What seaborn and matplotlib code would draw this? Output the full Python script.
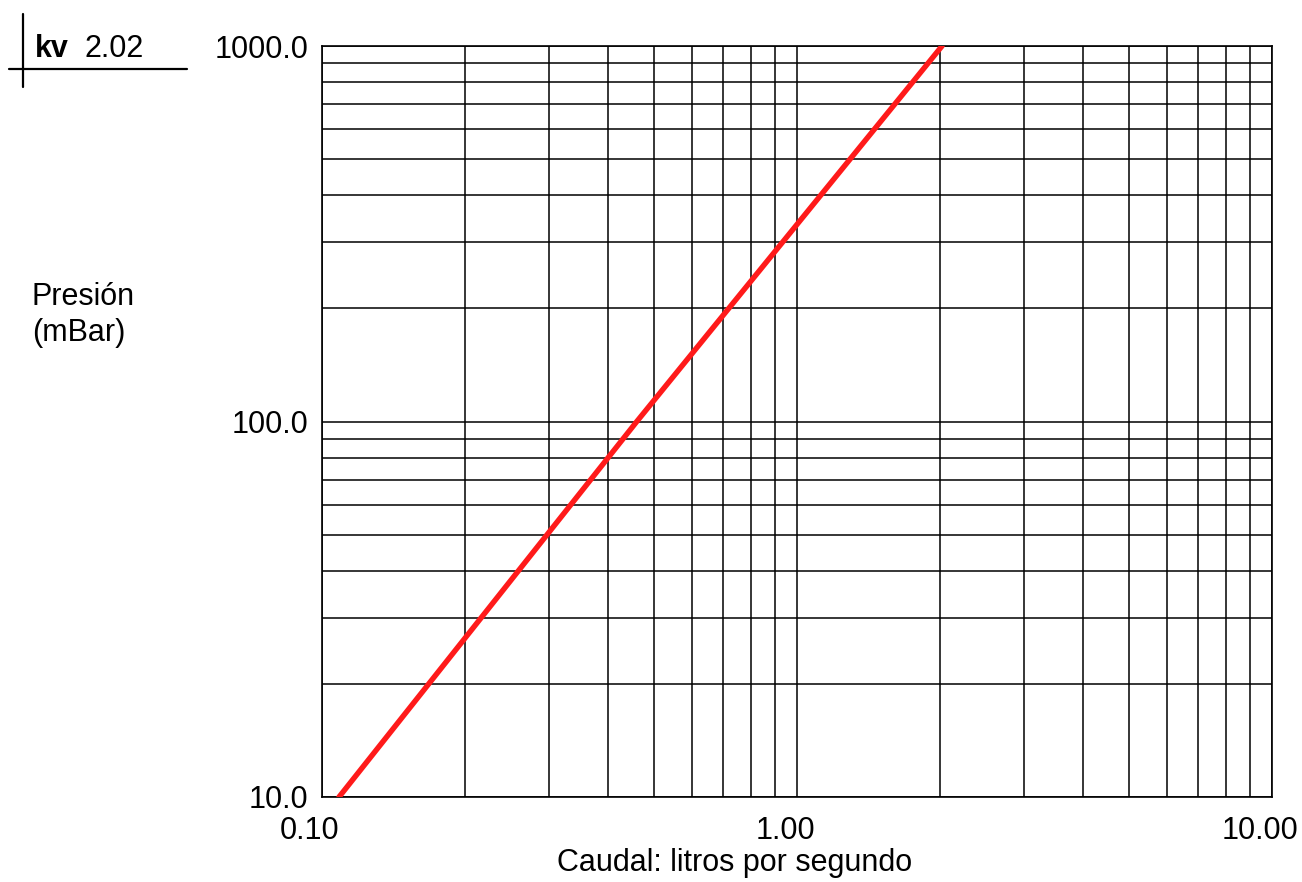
import numpy as np
import pandas as pd
import seaborn as sns
import matplotlib.pyplot as plt
import matplotlib.transforms as mtransforms
from matplotlib.ticker import FixedLocator, NullFormatter


# data (line for kv 2.02)
caudal = [0.1086, 0.46, 2.02]      # litros por segundo
presion = [10.0, 100.0, 1000.0]    # mBar
kv_value = "2.02"

x_ticks = [0.1, 1.0, 10.0]
x_tick_labels = ["0.10", "1.00", "10.00"]
y_ticks = [10.0, 100.0, 1000.0]
y_tick_labels = ["10.0", "100.0", "1000.0"]
x_minor = [0.2, 0.3, 0.4, 0.5, 0.6, 0.7, 0.8, 0.9, 2, 3, 4, 5, 6, 7, 8, 9]
y_minor = [20, 30, 40, 50, 60, 70, 80, 90, 200, 300, 400, 500, 600, 700, 800, 900]

df = pd.DataFrame({'caudal': caudal, 'presion': presion})

sns.set_style('white')
plt.rcParams['font.family'] = ['Liberation Sans', 'DejaVu Sans']
plt.rcParams['text.color'] = 'black'
plt.rcParams['axes.labelcolor'] = 'black'

fig = plt.figure(figsize=(13.02, 8.82), dpi=100)
ax = fig.add_axes([322 / 1302, 1 - 797 / 882, 950 / 1302, 751 / 882])

sns.lineplot(data=df, x='caudal', y='presion', color='#ff1a1a', lw=3.9, ax=ax, zorder=5)

ax.set_xscale('log')
ax.set_yscale('log')
ax.set_xlim(0.1, 10)
ax.set_ylim(10, 1000)

ax.xaxis.set_major_locator(FixedLocator(x_ticks))
ax.xaxis.set_minor_locator(FixedLocator(x_minor))
ax.yaxis.set_major_locator(FixedLocator(y_ticks))
ax.yaxis.set_minor_locator(FixedLocator(y_minor))
ax.set_xticklabels(x_tick_labels)
ax.set_yticklabels(y_tick_labels)
ax.xaxis.set_minor_formatter(NullFormatter())
ax.yaxis.set_minor_formatter(NullFormatter())

ax.tick_params(which='both', length=0, labelsize=22, colors='black')
ax.tick_params(axis='x', pad=14)
ax.tick_params(axis='y', pad=10)
# x labels sit a bit left of their gridline in the original
shift = mtransforms.ScaledTranslation(-12 / 100, 0, fig.dpi_scale_trans)
for lab in ax.get_xticklabels():
    lab.set_transform(lab.get_transform() + shift)

ax.grid(which='both', color='black', lw=1.1)
for s in ax.spines.values():
    s.set_color('black')
    s.set_linewidth(1.2)

ax.set_xlabel('Caudal: litros por segundo', fontsize=22, color='black')
ax.xaxis.set_label_coords(0.434, -0.068)
ax.set_ylabel('')

fig.text(32 / 1302, 1 - 282 / 882, 'Presión\n(mBar)', fontsize=22, ha='left', va='top',
         linespacing=1.25, color='black')

# kv box in the top-left corner
fig.text(35 / 1302, 1 - 57 / 882, 'kv', fontsize=22, fontweight='bold', ha='left',
         va='baseline', color='black')
fig.text(85 / 1302, 1 - 57 / 882, kv_value, fontsize=22, ha='left', va='baseline', color='black')
fig.add_artist(plt.Line2D([22.7 / 1302, 22.7 / 1302], [1 - 14 / 882, 1 - 87 / 882],
                          color='black', lw=1.6))
fig.add_artist(plt.Line2D([9 / 1302, 187 / 1302], [1 - 69 / 882, 1 - 69 / 882],
                          color='black', lw=1.6))

fig.savefig('out.png', dpi=100, facecolor='white')
